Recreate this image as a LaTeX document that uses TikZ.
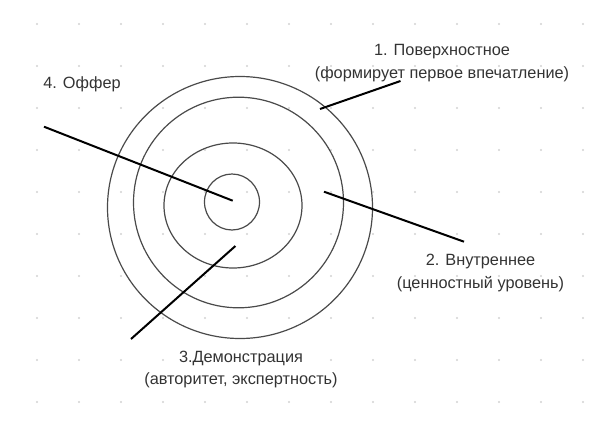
\documentclass[tikz,border=0pt]{standalone}
\usepackage{fontspec}
\setmainfont{Liberation Sans}
\definecolor{txt}{HTML}{333333}
\definecolor{ring}{HTML}{4A4A4A}
\definecolor{griddot}{HTML}{D2D2D2}
\begin{document}
\begin{tikzpicture}[x=1pt,y=-1pt,
  ringline/.style={draw=ring,line width=1.2pt},
  pointer/.style={draw=black,line width=2pt},
  label/.style={text=txt,align=center,inner sep=0pt,font=\fontsize{16.3}{22.5}\selectfont}]
\useasboundingbox (0,0) rectangle (609,441);
% dot grid
\foreach \i in {0,...,13}{
  \foreach \j in {0,...,9}{
    \fill[griddot] (37+42*\i,24+42*\j) circle (1.1pt);
  }
}
% rings
\draw[ringline] (240,207.5) ellipse [x radius=132.5, y radius=131];
\draw[ringline] (238.5,202.5) ellipse [x radius=105, y radius=105.3];
\draw[ringline] (233,205.5) ellipse [x radius=69, y radius=62.5];
\draw[ringline] (232,202) ellipse [x radius=27.5, y radius=28];
% labels
\node[label] (surface) at (442,63) {1. Поверхностное\\(формирует первое впечатление)};
\node[label] (offer) at (82,84) {4. Оффер};
\node[label] (inner) at (480.5,273) {2. Внутреннее\\(ценностный уровень)};
\node[label] (demo) at (241,369.5) {3.Демонстрация\\(авторитет, экспертность)};
% pointer ends
\coordinate (s1) at (320,109);
\coordinate (s2) at (400.5,81);
\coordinate (o1) at (44,126.7);
\coordinate (o2) at (232.7,200.7);
\coordinate (i1) at (324,191.7);
\coordinate (i2) at (464,241.7);
\coordinate (d1) at (235.4,246);
\coordinate (d2) at (131,339);
\draw[pointer] (s1) -- (s2);
\draw[pointer] (o1) -- (o2);
\draw[pointer] (i1) -- (i2);
\draw[pointer] (d1) -- (d2);
\end{tikzpicture}
\end{document}
